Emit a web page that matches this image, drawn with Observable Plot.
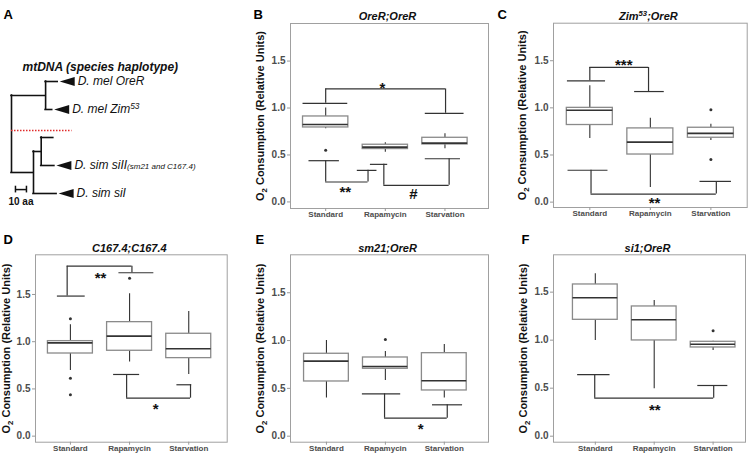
<!DOCTYPE html>
<html><head><meta charset="utf-8">
<script src="https://cdn.jsdelivr.net/npm/d3@7"></script>
<script src="https://cdn.jsdelivr.net/npm/@observablehq/plot@0.6"></script>
<style>
body{margin:0;background:#fff;}
#fig{position:relative;width:748px;height:455px;overflow:hidden;background:#fff;font-family:"Liberation Sans",Arial,sans-serif;}
.panel{position:absolute;}
.panel svg{overflow:visible;max-width:none;}
</style></head><body><div id="fig"></div>
<script>
// ---------- data ----------
const categories = ["Standard", "Rapamycin", "Starvation"];
const yTicks = [0, 0.5, 1, 1.5];

// box stats per category: [lower whisker, q1, median, q3, upper whisker]
const statsB = [[0.78, 0.793, 0.825, 0.91, 1.0], [0.53, 0.563, 0.584, 0.609, 0.63], [0.566, 0.612, 0.626, 0.683, 0.725]];
const outliersB = [[1, 0.549]];
const statsC = [[0.675, 0.818, 0.974, 1.0, 1.234], [0.156, 0.505, 0.636, 0.782, 0.889], [0.654, 0.683, 0.729, 0.789, 0.825]];
const outliersC = [[3, 0.981], [3, 0.451]];
const statsD = [[0.695, 0.875, 0.988, 1.006, 1.179], [0.784, 0.904, 1.059, 1.207, 1.507], [0.653, 0.826, 0.925, 1.084, 1.32]];
const outliersD = [[1, 1.243], [1, 0.614], [1, 0.438], [2, 1.673]];
const statsE = [[0.398, 0.572, 0.785, 0.862, 1.0], [0.583, 0.705, 0.729, 0.823, 0.886], [0.398, 0.478, 0.579, 0.868, 0.959]];
const outliersE = [[2, 1.01]];
const statsF = [[0.997, 1.212, 1.441, 1.58, 1.691], [0.493, 0.997, 1.212, 1.351, 1.413], [0.892, 0.924, 0.958, 0.983, 0.99]];
const outliersF = [[3, 1.097]];

// significance brackets: bar level y, ends x1/x2 dropping to y1/y2 with caps c1/c2
const bracketsB = [
  {x1: 1.0, x2: 3.01, y: 1.203, y1: 1.05, y2: 0.944, c1: [0.62, 1.37], c2: [2.67, 3.32], label: "*", lx: 1.95, ly: 1.256},
  {x1: 1.0, x2: 1.71, y: 0.212, y1: 0.439, y2: 0.336, c1: [0.72, 1.23], c2: [1.53, 1.86], label: "**", lx: 1.33, ly: 0.141},
  {x1: 1.975, x2: 3.07, y: 0.177, y1: 0.40, y2: 0.46, c1: [1.75, 2.04], c2: [2.67, 3.26], label: "#", lx: 2.47, ly: 0.088}
];
const bracketsC = [
  {x1: 1.0, x2: 1.97, y: 1.429, y1: 1.287, y2: 1.173, c1: [0.63, 1.26], c2: [1.74, 2.23], label: "***", lx: 1.56, ly: 1.49},
  {x1: 1.02, x2: 3.09, y: 0.085, y1: 0.338, y2: 0.22, c1: [0.64, 1.3], c2: [2.82, 3.34], label: "**", lx: 2.07, ly: 0.035}
];
const bracketsD = [
  {x1: 0.945, x2: 2.04, y: 1.80, y1: 1.483, y2: 1.73, c1: [0.78, 1.25], c2: [1.82, 2.41], label: "**", lx: 1.51, ly: 1.72},
  {x1: 1.95, x2: 3.03, y: 0.402, y1: 0.653, y2: 0.544, c1: [1.73, 2.17], c2: [2.80, 3.05], label: "*", lx: 2.44, ly: 0.33}
];
const bracketsE = [
  {x1: 1.986, x2: 3.05, y: 0.188, y1: 0.443, y2: 0.328, c1: [1.61, 2.26], c2: [2.80, 3.31], label: "*", lx: 2.60, ly: 0.118}
];
const bracketsF = [
  {x1: 0.99, x2: 3.01, y: 0.396, y1: 0.642, y2: 0.528, c1: [0.70, 1.25], c2: [2.74, 3.25], label: "**", lx: 2.01, ly: 0.309}
];

// panel A tree (x in amino-acid substitutions, y in leaf rows)
const treeVertical = [
  {x: 0, y1: 1.5, y2: 4.25}, {x: 31, y1: 1, y2: 2}, {x: 20, y1: 3.5, y2: 5}, {x: 27, y1: 3, y2: 4}
];
const treeHorizontal = [
  {y: 1.5, x1: 0, x2: 31}, {y: 4.25, x1: 0, x2: 20}, {y: 1, x1: 31, x2: 42}, {y: 2, x1: 31, x2: 37},
  {y: 3.5, x1: 20, x2: 27}, {y: 3, x1: 27, x2: 38}, {y: 4, x1: 27, x2: 39}, {y: 5, x1: 20, x2: 41}
];
const leafNames = ["D. mel OreR", "D. mel Zim^{53}", "D. sim siII~{(sm21 and C167.4)}", "D. sim siI"];
const leafX = [42, 37, 39, 41];
const leafY = [1, 2, 4, 5];
const speciesDivider = [{y: 2.75, x1: 0, x2: 55}];
const scaleBar = [{x1: 3.6, x2: 13.6, y: 4.86, label: "10 aa", ly: 5.29}];

// ---------- helpers ----------
const FONT = "'Liberation Sans', Arial, sans-serif";
function richText(svg) {
  const NS = "http://www.w3.org/2000/svg";
  svg.querySelectorAll("text").forEach(t => {
    const s = t.textContent;
    if (!/[\^_~]\{/.test(s)) return;
    while (t.firstChild) t.removeChild(t.firstChild);
    const add = (txt, attrs) => {
      const ts = document.createElementNS(NS, "tspan");
      ts.textContent = txt;
      for (const k in attrs) ts.setAttribute(k, attrs[k]);
      t.appendChild(ts);
    };
    const re = /([\^_~])\{([^}]*)\}/g;
    let last = 0, m, pending = 0;
    const plain = txt => { if (!txt) return; add(txt, pending ? {dy: pending} : {}); pending = 0; };
    while ((m = re.exec(s))) {
      plain(s.slice(last, m.index));
      if (m[1] === "^") { add(m[2], {dy: pending - 4, "font-size": "70%"}); pending = 4; }
      else if (m[1] === "_") { add(m[2], {dy: pending + 3, "font-size": "70%"}); pending = -3; }
      else { add(m[2], {dy: pending, "font-size": "8px"}); pending = 0; }
      last = re.lastIndex;
    }
    plain(s.slice(last));
  });
}
function place(svg, left, top) {
  const div = document.createElement("div");
  div.className = "panel";
  div.style.left = left + "px";
  div.style.top = top + "px";
  div.appendChild(svg);
  document.getElementById("fig").appendChild(div);
  richText(svg);
}

function boxPanel(stats, outliers, brackets, L) {
  const rows = stats.map((s, k) => ({i: k + 1, lo: s[0], q1: s[1], med: s[2], q3: s[3], hi: s[4]}));
  const hw = 0.38;
  const stars = brackets.filter(b => b.label !== "#");
  const hashes = brackets.filter(b => b.label === "#");
  const ink = "#333";
  return Plot.plot({
    width: L.width, height: L.height,
    marginLeft: L.ml, marginRight: L.mr, marginTop: L.mt, marginBottom: L.mb,
    x: {domain: L.xd}, y: {domain: L.yd},
    style: {fontFamily: FONT, background: "white", overflow: "visible"},
    marks: [
      Plot.frame({stroke: "#a0a0a0"}),
      Plot.axisY({ticks: yTicks, tickFormat: d3.format(".1f"), tickSize: 3, tickPadding: 2, fontSize: 10, fontWeight: "bold", fill: "#4d4d4d", stroke: "#999", label: null}),
      Plot.axisX({ticks: [1, 2, 3], tickFormat: i => categories[i - 1], tickSize: 3, tickPadding: 0, fontSize: 8, fontWeight: "bold", fill: "#4d4d4d", stroke: "#999", label: null}),
      Plot.ruleX(rows, {x: "i", y1: "q3", y2: "hi", stroke: ink, strokeWidth: 1.1}),
      Plot.ruleX(rows, {x: "i", y1: "lo", y2: "q1", stroke: ink, strokeWidth: 1.1}),
      Plot.rect(rows, {x1: d => d.i - hw, x2: d => d.i + hw, y1: "q1", y2: "q3", fill: "white", stroke: "#8a8a8a", strokeWidth: 1.3}),
      Plot.ruleY(rows, {y: "med", x1: d => d.i - hw, x2: d => d.i + hw, stroke: ink, strokeWidth: 1.6}),
      Plot.dot(outliers, {x: d => d[0], y: d => d[1], r: 1.5, fill: ink, stroke: "none"}),
      Plot.ruleY(brackets, {y: "y", x1: "x1", x2: "x2", stroke: ink, strokeWidth: 1.2}),
      Plot.ruleX(brackets, {x: "x1", y1: "y", y2: "y1", stroke: ink, strokeWidth: 1.2}),
      Plot.ruleX(brackets, {x: "x2", y1: "y", y2: "y2", stroke: ink, strokeWidth: 1.2}),
      Plot.ruleY(brackets, {y: "y1", x1: d => d.c1[0], x2: d => d.c1[1], stroke: ink, strokeWidth: 1.2}),
      Plot.ruleY(brackets, {y: "y2", x1: d => d.c2[0], x2: d => d.c2[1], stroke: ink, strokeWidth: 1.2}),
      Plot.text(stars, {x: "lx", y: "ly", text: "label", fontSize: 15, fontWeight: "bold", fill: "#111", dy: 4}),
      Plot.text(hashes, {x: "lx", y: "ly", text: "label", fontSize: 15, fontWeight: "bold", fill: "#111", dy: 0.5}),
      Plot.text([L.title], {text: d => d, frameAnchor: "top", dx: -2, dy: L.tdy, fontSize: 11, fontWeight: "bold", fontStyle: "italic", fill: "#111"}),
      Plot.text([L.letter], {text: d => d, frameAnchor: "top-left", dx: L.ldx, dy: L.ldy, textAnchor: "start", fontSize: 13, fontWeight: "bold", fill: "#000"}),
      Plot.text(["O_{2} Consumption (Relative Units)"], {text: d => d, frameAnchor: "left", textAnchor: "middle", dx: L.ydx, rotate: -90, fontSize: 11, fontWeight: "bold", fill: "#111"})
    ]
  });
}

// ---------- panel A ----------
const triangle = {draw(ctx) { ctx.moveTo(0, 0); ctx.lineTo(15, -4.5); ctx.lineTo(15, 4.5); ctx.closePath(); }};
const leaves = leafNames.map((name, k) => ({name, x: leafX[k], y: leafY[k]}));
const treeSvg = Plot.plot({
  width: 240, height: 222, margin: 0,
  x: {domain: [-10, 208.18], range: [0, 240], axis: null},
  y: {domain: [-1.893, 6.036], range: [0, 222], axis: null},
  style: {fontFamily: FONT, background: "white", overflow: "visible"},
  marks: [
    Plot.ruleX(treeVertical, {x: "x", y1: "y1", y2: "y2", stroke: "#111", strokeWidth: 1.6, strokeLinecap: "square"}),
    Plot.ruleY(treeHorizontal, {y: "y", x1: "x1", x2: "x2", stroke: "#111", strokeWidth: 1.6, strokeLinecap: "square"}),
    Plot.ruleY(speciesDivider, {y: "y", x1: "x1", x2: "x2", stroke: "#e02a2a", strokeWidth: 1.5, strokeDasharray: "1.5 1.5"}),
    Plot.dot(leaves, {x: "x", y: "y", symbol: triangle, fill: "#111", stroke: "none", dx: 2}),
    Plot.text(leaves, {x: "x", y: "y", text: "name", dx: 20, textAnchor: "start", fontSize: 12, fontStyle: "italic", fill: "#111"}),
    Plot.ruleY(scaleBar, {y: "y", x1: "x1", x2: "x2", stroke: "#111", strokeWidth: 1.5}),
    Plot.ruleX(scaleBar, {x: "x1", y1: d => d.y - 0.12, y2: d => d.y + 0.12, stroke: "#111", strokeWidth: 1.5}),
    Plot.ruleX(scaleBar, {x: "x2", y1: d => d.y - 0.12, y2: d => d.y + 0.12, stroke: "#111", strokeWidth: 1.5}),
    Plot.text(scaleBar, {x: d => (d.x1 + d.x2) / 2, y: "ly", text: "label", fontSize: 10, fontWeight: "bold", fill: "#111"}),
    Plot.text(["mtDNA (species haplotype)"], {text: d => d, frameAnchor: "top-left", dx: 22, dy: 62, textAnchor: "start", fontSize: 12, fontWeight: "bold", fontStyle: "italic", fill: "#111"}),
    Plot.text(["A"], {text: d => d, frameAnchor: "top-left", dx: 3, dy: 9, textAnchor: "start", fontSize: 13, fontWeight: "bold", fill: "#000"})
  ]
});
place(treeSvg, 0, 0);

// ---------- panels B-F ----------
place(boxPanel(statsB, outliersB, bracketsB, {width: 250, height: 225, ml: 50, mr: 2, mt: 23, mb: 17, xd: [0.41, 3.73], yd: [-0.07, 1.9], title: "OreR;OreR", tdy: -11, letter: "B", ldx: -37, ldy: -13.5, ydx: -30}), 240, 0);
place(boxPanel(statsC, outliersC, bracketsC, {width: 258, height: 225, ml: 63, mr: 1.3, mt: 22.7, mb: 18, xd: [0.4, 3.6], yd: [-0.057, 1.898], title: "Zim^{53};OreR", tdy: -10.7, letter: "C", ldx: -56, ldy: -13.2, ydx: -31}), 490, 0);
place(boxPanel(statsD, outliersD, bracketsD, {width: 235, height: 230, ml: 35, mr: 8.3, mt: 29.3, mb: 13.3, xd: [0.41, 3.65], yd: [-0.064, 1.92], title: "C167.4;C167.4", tdy: -10.3, letter: "D", ldx: -32, ldy: -19.8, ydx: -29}), 0, 225);
place(boxPanel(statsE, outliersE, bracketsE, {width: 250, height: 230, ml: 50, mr: 2, mt: 29.3, mb: 13.3, xd: [0.39, 3.75], yd: [-0.063, 1.897], title: "sm21;OreR", tdy: -10.3, letter: "E", ldx: -35, ldy: -19.8, ydx: -30}), 240, 225);
place(boxPanel(statsF, outliersF, bracketsF, {width: 258, height: 230, ml: 63, mr: 3, mt: 29.3, mb: 13.3, xd: [0.29, 3.55], yd: [-0.0625, 1.889], title: "si1;OreR", tdy: -10.3, letter: "F", ldx: -32, ldy: -19.8, ydx: -30}), 490, 225);
</script></body></html>
